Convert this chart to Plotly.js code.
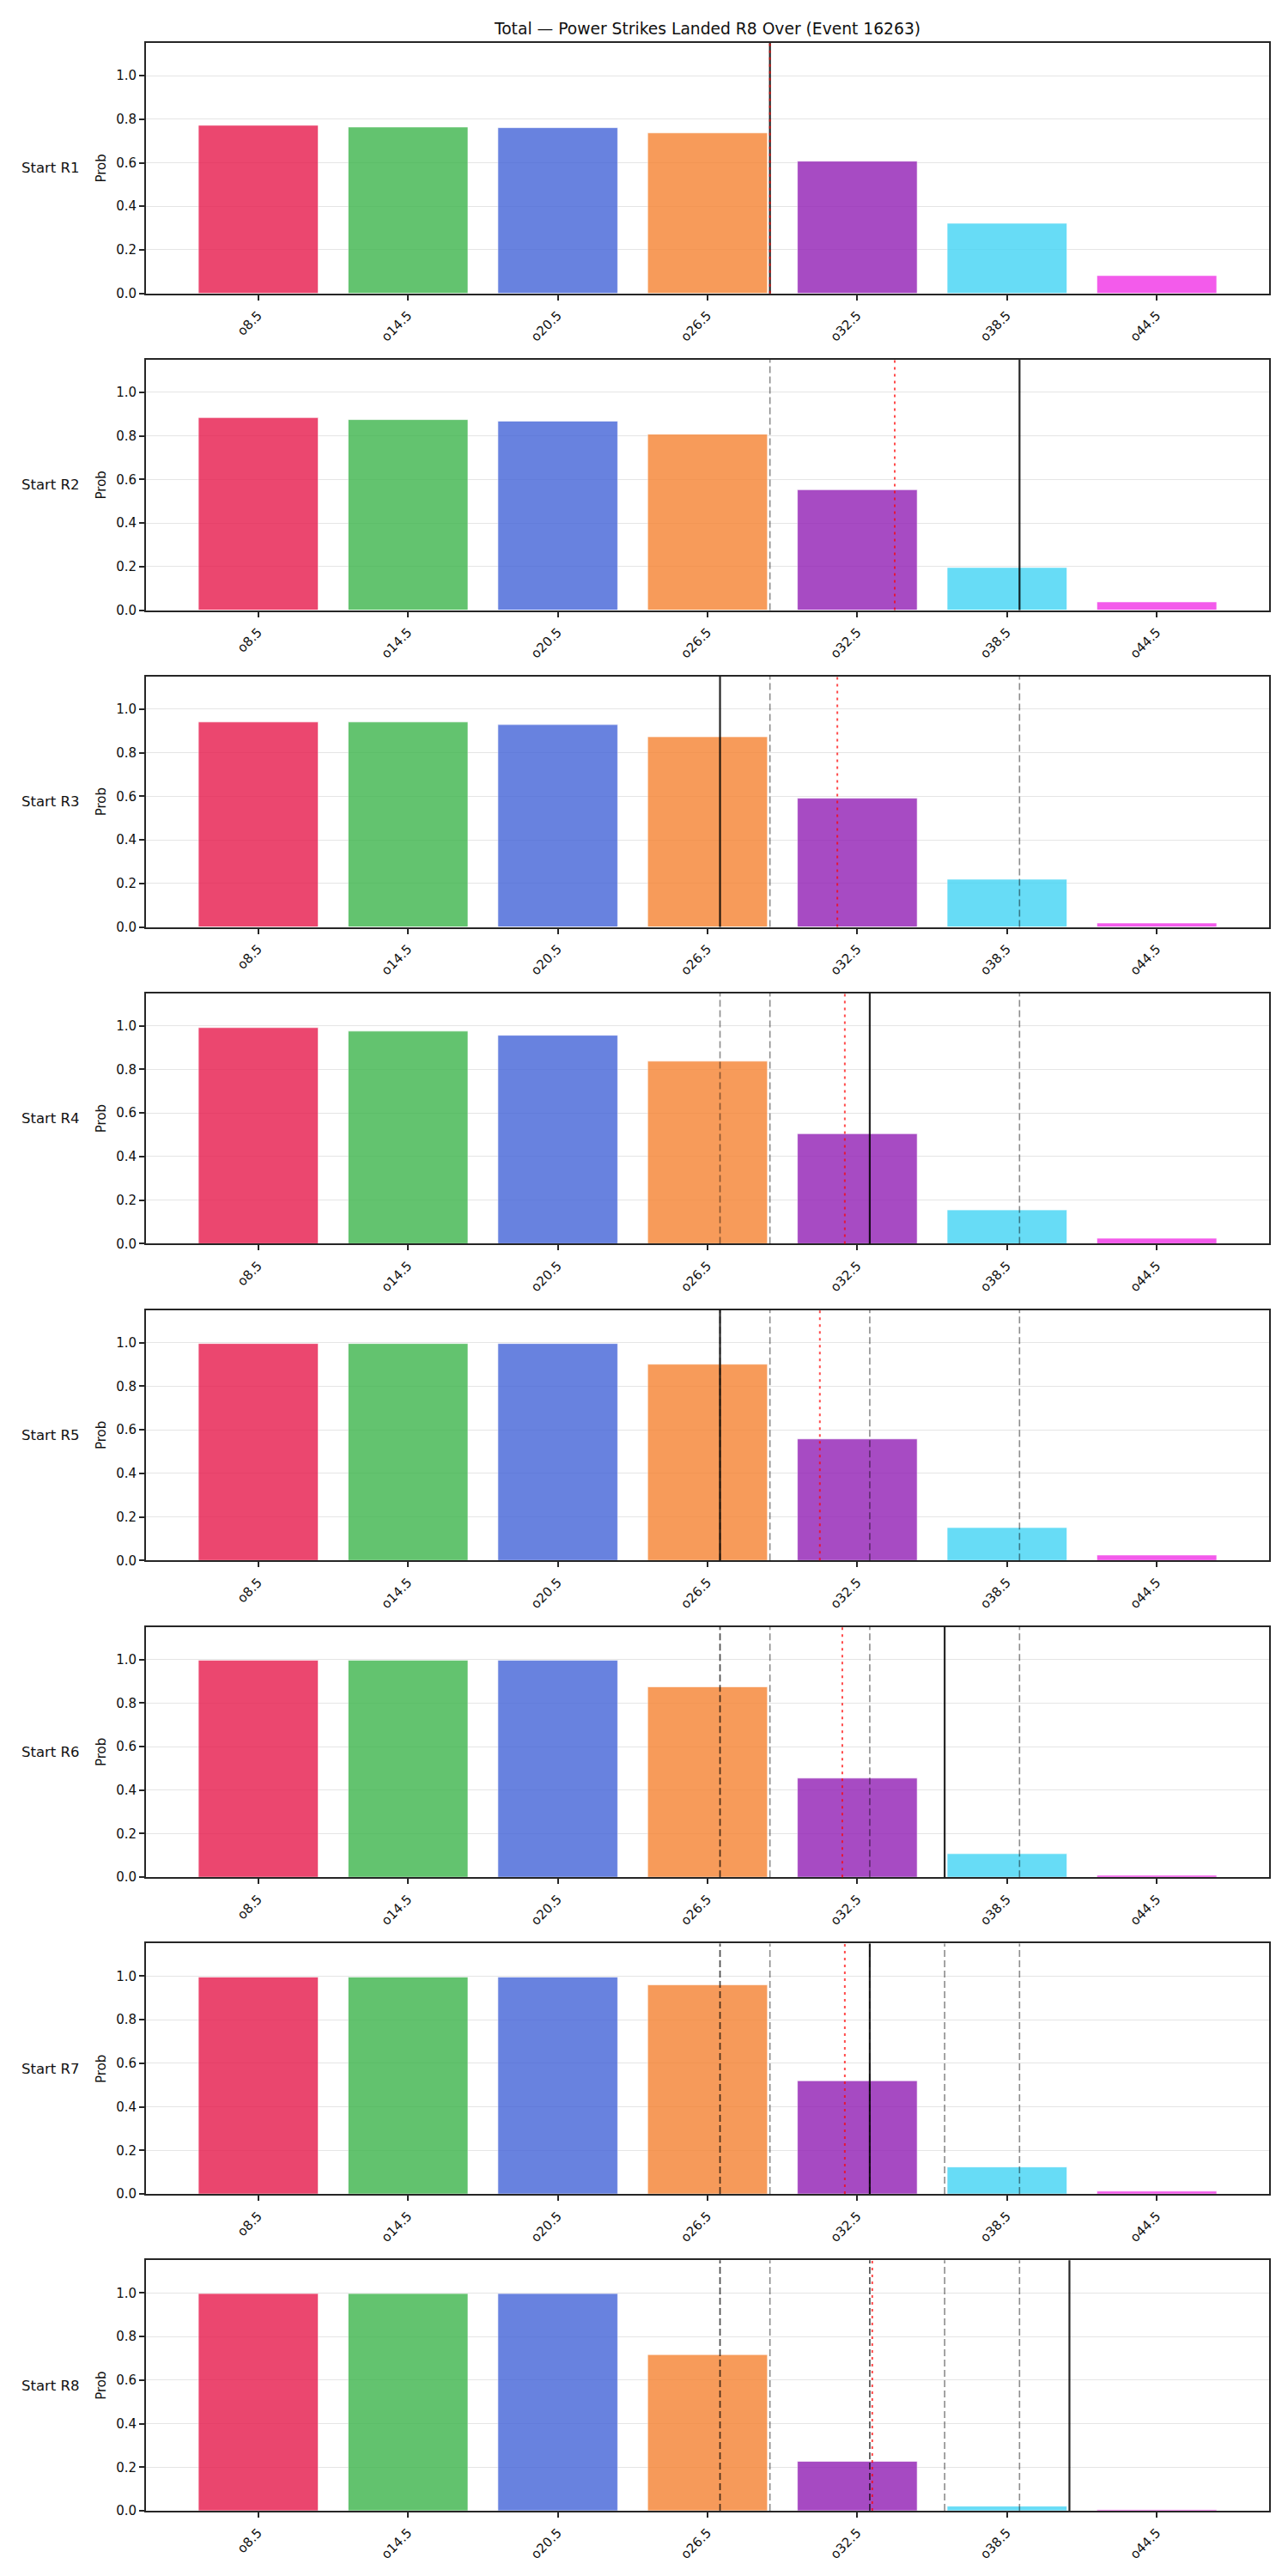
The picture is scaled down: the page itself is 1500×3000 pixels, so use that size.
<!DOCTYPE html>
<html>
<head>
<meta charset="utf-8">
<script src="https://cdn.plot.ly/plotly-3.0.1.min.js"></script>
<style>html,body{margin:0;padding:0;background:#fff;}#chart{width:1500px;height:3000px;}</style>
</head>
<body>
<div id="chart"></div>
<script>
// ---- data ----
const titleText = 'Total — Power Strikes Landed R8 Over (Event 16263)';
const categories = ['o8.5', 'o14.5', 'o20.5', 'o26.5', 'o32.5', 'o38.5', 'o44.5'];
const lineValues = [8.5, 14.5, 20.5, 26.5, 32.5, 38.5, 44.5];
const rowLabels = ['Start R1', 'Start R2', 'Start R3', 'Start R4', 'Start R5', 'Start R6', 'Start R7', 'Start R8'];
const probR1 = [0.772, 0.764, 0.761, 0.737, 0.607, 0.322, 0.082];
const probR2 = [0.884, 0.875, 0.868, 0.808, 0.553, 0.196, 0.038];
const probR3 = [0.941, 0.941, 0.929, 0.873, 0.591, 0.219, 0.018];
const probR4 = [0.992, 0.976, 0.957, 0.838, 0.505, 0.155, 0.025];
const probR5 = [0.996, 0.996, 0.996, 0.901, 0.558, 0.151, 0.025];
const probR6 = [0.996, 0.996, 0.996, 0.874, 0.455, 0.108, 0.009];
const probR7 = [0.996, 0.996, 0.996, 0.960, 0.520, 0.124, 0.013];
const probR8 = [0.997, 0.997, 0.997, 0.717, 0.227, 0.021, 0.005];
const actualTotals = [29, 39, 27, 33, 27, 36, 33, 41];      // solid black line per row
const projectedTotals = [29.0, 34.0, 31.7, 32.0, 31.0, 31.9, 32.0, 33.1]; // red dotted line per row
const barColors = ['#e6194b', '#3cb44b', '#4363d8', '#f58231', '#911eb4', '#42d4f4', '#f032e6'];

const probs = [probR1, probR2, probR3, probR4, probR5, probR6, probR7, probR8];

// ---- layout geometry (pixels) ----
const W = 1500, H = 3000;
const plotLeft = 170, plotRight = 1478;
const firstTop = 50, pitch = 368.9, panelH = 291.7;
const FONT = 'DejaVu Sans, sans-serif';
const ink = '#262626';

const traces = [];
const shapes = [];
const annotations = [];
const layout = {
  width: W, height: H,
  margin: {l: 0, r: 0, t: 0, b: 0},
  paper_bgcolor: '#ffffff', plot_bgcolor: '#ffffff',
  showlegend: false,
  bargap: 0.2,
  font: {family: FONT, color: '#111', size: 15},
  title: {text: titleText, x: ((plotLeft + plotRight) / 2) / W, xanchor: 'center',
          y: 1 - 33 / H, yanchor: 'middle', font: {family: FONT, size: 18.7, color: '#111'}},
  shapes: shapes, annotations: annotations
};

probs.forEach((p, i) => {
  const n = i + 1;
  const xa = n === 1 ? 'x' : 'x' + n;
  const ya = n === 1 ? 'y' : 'y' + n;
  const top = firstTop + pitch * i;
  const bottom = top + panelH;
  traces.push({
    type: 'bar', x: lineValues, y: p, xaxis: xa, yaxis: ya,
    width: 4.8,
    marker: {color: barColors, opacity: 0.8, line: {color: 'rgba(255,255,255,0.8)', width: 0.8}},
    hoverinfo: 'x+y'
  });
  layout['xaxis' + (n === 1 ? '' : n)] = {
    domain: [plotLeft / W, plotRight / W], anchor: ya,
    range: [4, 49], tickmode: 'array', tickvals: lineValues, ticktext: categories,
    tickangle: -45, ticks: 'outside', ticklen: 6, tickwidth: 2, tickcolor: ink,
    ticklabelstandoff: 3,
    showgrid: false, zeroline: false, showline: true, mirror: true, linecolor: ink, linewidth: 2,
    tickfont: {family: FONT, size: 15, color: '#111'}
  };
  layout['yaxis' + (n === 1 ? '' : n)] = {
    domain: [(H - bottom) / H, (H - top) / H], anchor: xa,
    range: [0, 1.15], tickvals: [0, 0.2, 0.4, 0.6, 0.8, 1.0], tickformat: '.1f',
    ticks: 'outside', ticklen: 6, tickwidth: 2, tickcolor: ink,
    showgrid: true, gridcolor: '#e5e5e5', gridwidth: 1,
    zeroline: false, showline: true, mirror: true, linecolor: ink, linewidth: 2,
    tickfont: {family: FONT, size: 15, color: '#111'},
    title: {text: 'Prob', standoff: 8, font: {family: FONT, size: 15, color: '#111'}}
  };
  // previous rounds' totals (gray dashed)
  actualTotals.slice(0, i).forEach(v => {
    shapes.push({type: 'line', xref: xa, yref: ya + ' domain', x0: v, x1: v, y0: 0, y1: 1,
      layer: 'above', line: {color: 'rgba(0,0,0,0.45)', width: 1.6, dash: '8px,4px'}});
  });
  // current round's total (solid black)
  shapes.push({type: 'line', xref: xa, yref: ya + ' domain', x0: actualTotals[i], x1: actualTotals[i], y0: 0, y1: 1,
    layer: 'above', line: {color: 'rgba(0,0,0,0.85)', width: 2.2}});
  // projection (red dotted)
  shapes.push({type: 'line', xref: xa, yref: ya + ' domain', x0: projectedTotals[i], x1: projectedTotals[i], y0: 0, y1: 1,
    layer: 'above', line: {color: 'rgba(255,0,0,0.7)', width: 2, dash: '3px,5px'}});
  // row label
  annotations.push({text: rowLabels[i], xref: 'paper', yref: 'paper',
    x: 23 / W, xanchor: 'left', y: (H - (top + bottom) / 2) / H, yanchor: 'middle',
    showarrow: false, font: {family: FONT, size: 16.5, color: '#111'}});
});

Plotly.newPlot('chart', traces, layout, {staticPlot: true});
</script>
</body>
</html>
